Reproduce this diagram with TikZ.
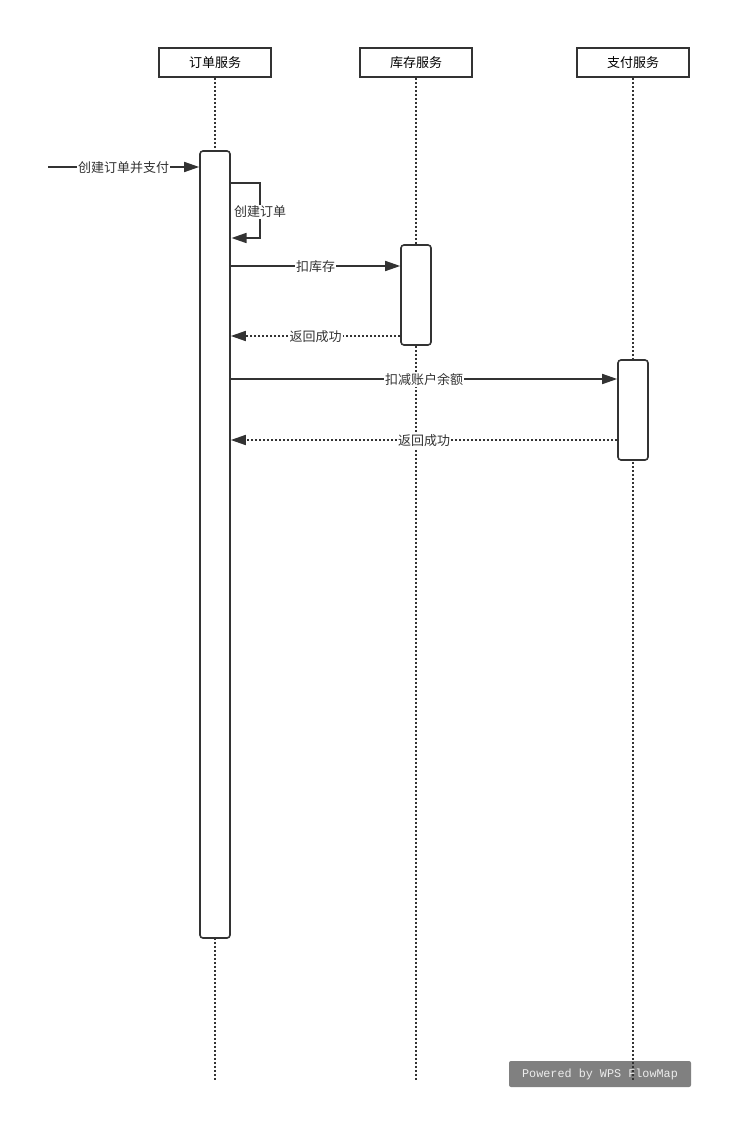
\documentclass[tikz,border=0pt]{standalone}
\usepackage{fontspec}
\setmainfont{Noto Sans CJK SC}
\newfontfamily\wmfont{Liberation Mono}
\usetikzlibrary{arrows.meta}
\definecolor{ink}{HTML}{333333}
\definecolor{wmgray}{HTML}{808080}
\tikzset{
  svc/.style={draw=ink,line width=1.6pt,minimum width=112pt,minimum height=29pt,inner sep=0pt,font=\fontsize{13}{15}\selectfont},
  act/.style={draw=ink,fill=white,line width=1.6pt,rounded corners=3pt,minimum width=30pt,inner sep=0pt},
  life/.style={ink,line width=1.6pt,dash pattern=on 2pt off 2pt},
  msg/.style={ink,line width=1.6pt,->},
  reply/.style={ink,line width=1.6pt,dash pattern=on 2pt off 2pt,->},
  lbl/.style={fill=white,inner sep=1pt,yshift=-1pt,text=ink,font=\fontsize{13}{15}\selectfont}
}
\begin{document}
\begin{tikzpicture}[x=1pt,y=-1pt,>={Triangle[length=15pt,width=10pt]}]
	\useasboundingbox (0,0) rectangle (751,1142);
	% watermark
	\node[fill=wmgray,rounded corners=2pt,minimum width=182pt,minimum height=26pt,inner sep=0pt,text=white!85!gray,font=\wmfont\fontsize{11.8}{13}\selectfont] (wm) at (600,1074) {Powered by WPS FlowMap};
	% services
	\node[svc] (ord) at (215,62.5) {订单服务};
	\node[svc] (inv) at (416,62.5) {库存服务};
	\node[svc] (pay) at (633,62.5) {支付服务};
	\coordinate (ordE) at (215,1080);
	\coordinate (invE) at (416,1080);
	\coordinate (payE) at (633,1080);
	\draw[life] (ord.south)--(ordE);
	\draw[life] (inv.south)--(invE);
	\draw[life] (pay.south)--(payE);
	% activations
	\node[act,minimum height=787pt] (ordA) at (215,544.5) {};
	\node[act,minimum height=100pt] (invA) at (416,295) {};
	\node[act,minimum height=100pt] (payA) at (633,410) {};
	% messages
	\coordinate (start) at (48,167);
	\coordinate (m1) at (0,266);
	\coordinate (m2) at (0,336);
	\coordinate (m3) at (0,379);
	\coordinate (m4) at (0,440);
	\draw[msg] (start)--(ordA.west |- start) node[lbl,pos=0.5] (l0) {创建订单并支付};
	\draw[msg] (230,183)-|(260,238)--(231.5,238);
	\node[lbl] (l1) at (260,211) {创建订单};
	\draw[msg] (ordA.east |- m1)--(invA.west |- m1) node[lbl,pos=0.5] (l2) {扣库存};
	\draw[reply] (invA.west |- m2)--(ordA.east |- m2) node[lbl,pos=0.5] (l3) {返回成功};
	\draw[msg] (ordA.east |- m3)--(payA.west |- m3) node[lbl,pos=0.5] (l4) {扣减账户余额};
	\draw[reply] (payA.west |- m4)--(ordA.east |- m4) node[lbl,pos=0.5] (l5) {返回成功};
\end{tikzpicture}
\end{document}
